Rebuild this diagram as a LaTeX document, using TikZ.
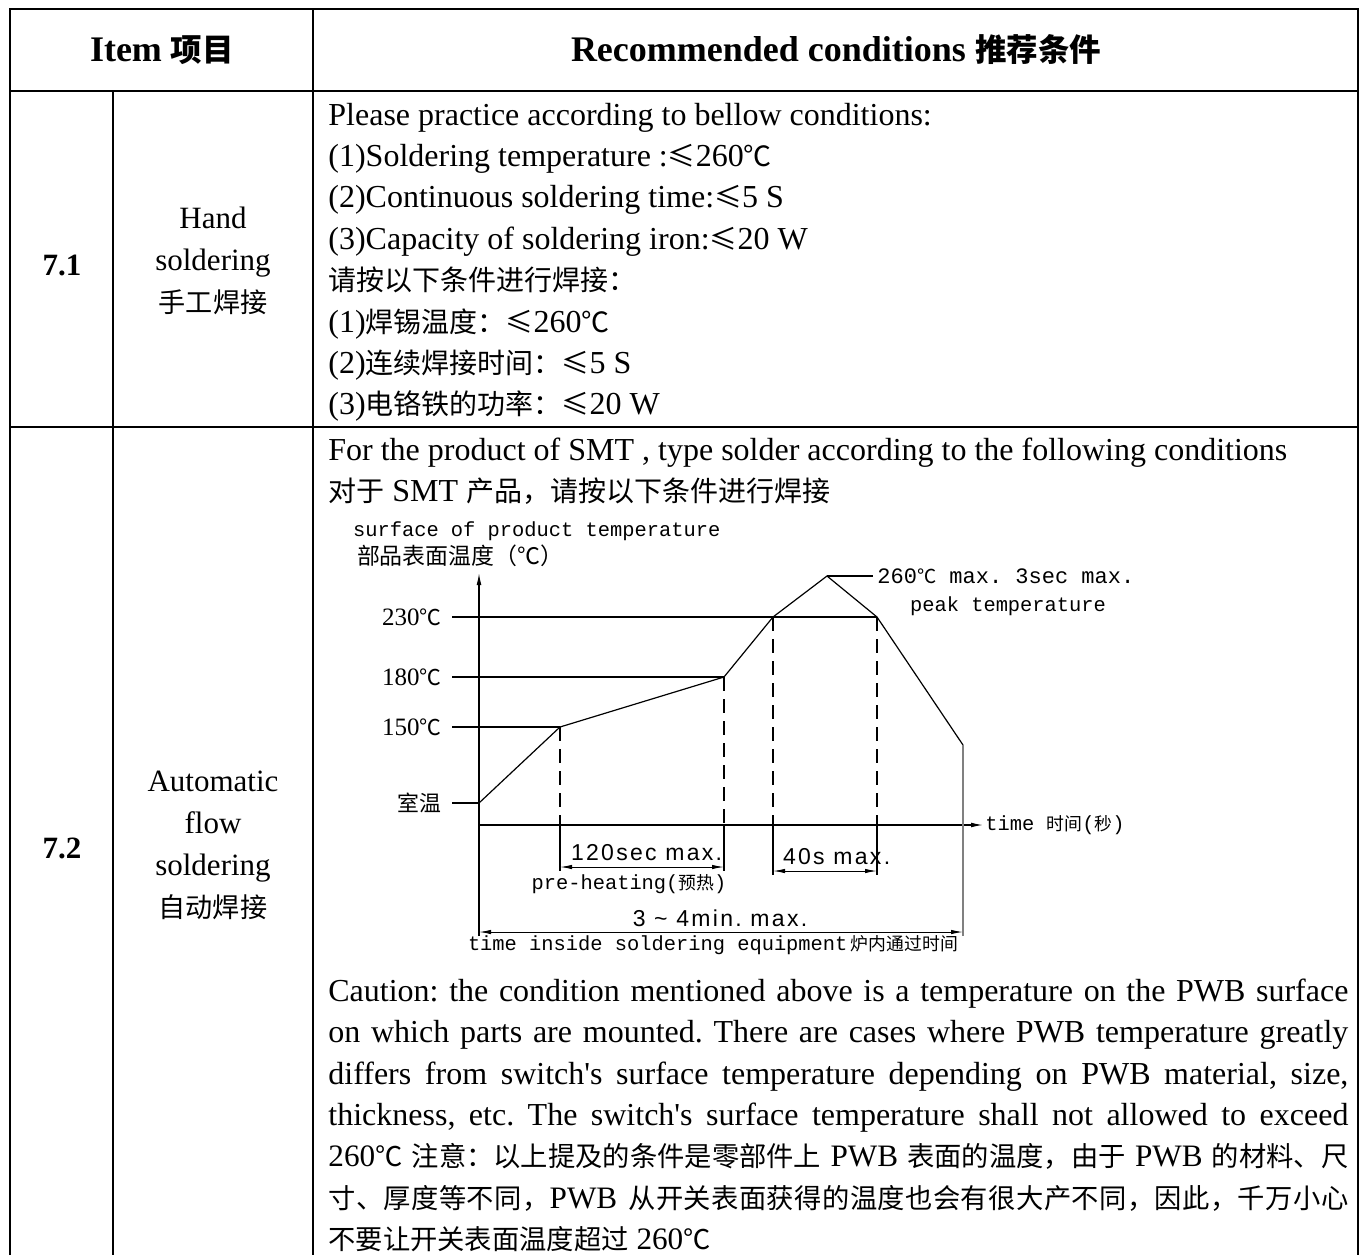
\documentclass[tikz,border=0pt]{standalone}
\usepackage{fontspec}
\setmainfont{Liberation Serif}
\setsansfont[LetterSpace=10]{Liberation Sans}
\setmonofont{Liberation Mono}
\newfontfamily\cjk[Scale=0.875]{Noto Sans CJK SC}
\newfontfamily\cjkwide[Scale=0.875,LetterSpace=1.5]{Noto Sans CJK SC}
\XeTeXlinebreaklocale "zh"
\XeTeXlinebreakskip=0pt plus 2pt
\frenchspacing
\usetikzlibrary{arrows.meta}
\newcommand{\zh}[1]{{\cjk #1}}
\newcommand{\zhw}[1]{{\cjkwide #1}}
\newcommand{\dC}{{\cjk ℃}}
\newcommand{\myLe}{{\cjk ≤}}

\begin{document}
\begin{tikzpicture}[x=0.5pt,y=-0.5pt,
    % Define styles
    grid/.style={
        line width=1.3pt
    },
    head/.style={
        font=\fontsize{18}{22}\selectfont\bfseries
    },
    num/.style={
        font=\fontsize{15.5}{20}\selectfont\bfseries
    },
    item/.style={
        align=center,
        font=\fontsize{15.5}{21}\selectfont
    },
    body/.style={
        anchor=base west,
        inner sep=0pt,
        font=\fontsize{16}{20}\selectfont
    },
    bodyzh/.style={
        body,
        font=\fontsize{15.6}{20}\selectfont
    },
    templbl/.style={
        anchor=east,
        inner sep=5pt,
        font=\fontsize{12.5}{14}\selectfont
    },
    monotxt/.style={
        font=\fontsize{10.2}{12}\selectfont\ttfamily
    },
    dimtxt/.style={
        font=\fontsize{11.5}{13}\selectfont\sffamily
    },
    curve/.style={
        line width=0.6pt
    },
    guide/.style={
        line width=0.6pt,
        dash pattern=on 7pt off 4pt
    },
    axis/.style={
        line width=0.6pt,
        -{Latex[length=6pt,width=2.4pt]}
    },
    dimline/.style={
        line width=0.5pt,
        {Latex[length=6pt,width=2.2pt]}-{Latex[length=6pt,width=2.2pt]}
    }
]
\useasboundingbox (0,0) rectangle (1367,1255);

% Variables
\def\colA{10}
\def\colB{113}
\def\colC{313}
\def\colD{1358}
\def\rowA{9}
\def\rowB{91}
\def\rowC{427}
\def\rowE{1255}
\def\txtx{328}

% Table frame
\draw[grid] (\colA,\rowE) -- (\colA,\rowA) -- (\colD,\rowA) -- (\colD,\rowE);
\draw[grid] (\colA,\rowB) -- (\colD,\rowB);
\draw[grid] (\colA,\rowC) -- (\colD,\rowC);
\draw[grid] (\colB,\rowB) -- (\colB,\rowE);
\draw[grid] (\colC,\rowA) -- (\colC,\rowE);

% Header
\node[head] (hitem) at (162,50) {Item \zh{项目}};
\node[head] (hcond) at (836,50) {Recommended conditions \zh{推荐条件}};

% Row 7.1
\node[num] (n71) at (62,265) {7.1};
\node[item] (i71) at (213,261) {Hand\\soldering\\\zh{手工焊接}};

\node[body] (c1) at (\txtx,125) {Please practice according to bellow conditions:};
\node[body] (c2) at (\txtx,166.4) {(1)Soldering temperature :\myLe260\dC};
\node[body] (c3) at (\txtx,207.8) {(2)Continuous soldering time:\myLe5 S};
\node[body] (c4) at (\txtx,249.2) {(3)Capacity of soldering iron:\myLe20 W};
\node[body] (c5) at (\txtx,290.6) {\zh{请按以下条件进行焊接：}};
\node[body] (c6) at (\txtx,332) {(1)\zh{焊锡温度：}\myLe260\dC};
\node[body] (c7) at (\txtx,373.4) {(2)\zh{连续焊接时间：}\myLe5 S};
\node[body] (c8) at (\txtx,414.8) {(3)\zh{电铬铁的功率：}\myLe20 W};

% Row 7.2
\node[num] (n72) at (62,848) {7.2};
\node[item] (i72) at (213,845) {Automatic\\flow\\soldering\\\zh{自动焊接}};

\node[body] (s1) at (\txtx,460) {For the product of SMT , type solder according to the following conditions};
\node[body] (s2) at (\txtx,501) {\zh{对于} SMT \zh{产品，请按以下条件进行焊接}};

% Profile chart
\coordinate (o) at (479,825);
\coordinate (ytop) at (479,573);
\coordinate (ybot) at (479,936);
\coordinate (xend) at (983,825);
\coordinate (p1) at (479,803);
\coordinate (p2) at (560,727);
\coordinate (p3) at (724,677);
\coordinate (p4) at (773,617);
\coordinate (p5) at (827,576);
\coordinate (p6) at (877,617);
\coordinate (p7) at (963,745);

\node[monotxt, anchor=west] (ylab) at (346,531) {surface of product temperature};
\node[anchor=west, font=\fontsize{13.1}{14}\selectfont] (ylab2) at (350,556) {\zh{部品表面温度（℃）}};

\draw[axis] (ybot) -- (ytop);
\draw[axis] (o) -- (xend);
\node[monotxt, anchor=west, inner sep=1pt] (xlab) at (xend) {time \zh{时间}(\zh{秒})};

\node[templbl] (t230) at (452,617) {230\dC};
\node[templbl] (t180) at (452,677) {180\dC};
\node[templbl] (t150) at (452,727) {150\dC};
\node[templbl] (troom) at (452,803) {\zh{室温}};
\draw[curve] (t230.east) -- (p6);
\draw[curve] (t180.east) -- (p3);
\draw[curve] (t150.east) -- (p2);
\draw[curve] (troom.east) -- (p1);

\draw[curve] (p1) -- (p2) -- (p3) -- (p4) -- (p5) -- (p6) -- (p7);

\node[monotxt, anchor=west, inner sep=2pt, font=\fontsize{11}{13}\selectfont\ttfamily] (lpeak) at (873,576) {260\dC\ max. 3sec max.};
\draw[curve] (p5) -- (lpeak.west);
\node[monotxt, anchor=west] (lpeak2) at (903,606) {peak temperature};

% Guides and extension lines
\coordinate (e2) at (560,871);
\coordinate (e3) at (724,871);
\coordinate (e4) at (773,875);
\coordinate (e6) at (877,875);
\coordinate (e7) at (963,936);
\draw[guide] (p2) -- (p2 |- o);
\draw[guide] (p3) -- (p3 |- o);
\draw[guide] (p4) -- (p4 |- o);
\draw[guide] (p6) -- (p6 |- o);
\draw[curve] (p2 |- o) -- (e2);
\draw[curve] (p3 |- o) -- (e3);
\draw[curve] (p4 |- o) -- (e4);
\draw[curve] (p6 |- o) -- (e6);
\draw[curve, gray] (p7) -- (e7);

% Dimensions
\coordinate (a1l) at (560,867);
\coordinate (a1r) at (724,867);
\coordinate (a2l) at (773,871);
\coordinate (a2r) at (877,871);
\coordinate (a3l) at (479,932);
\coordinate (a3r) at (963,932);
\draw[dimline] (a1l) -- (a1r);
\draw[dimline] (a2l) -- (a2r);
\draw[dimline] (a3l) -- (a3r);

\node[dimtxt, anchor=base west] (d120) at (564,860) {120sec max.};
\node[monotxt] (dpre) at (629,884) {pre-heating(\zh{预热})};
\node[dimtxt, anchor=base west] (d40) at (776,864) {40s max.};
\node[dimtxt] (d34) at (720,918) {3 \textasciitilde\ 4min. max.};
\node[monotxt] (dtime) at (713,945) {time inside soldering equipment\,\zh{炉内通过时间}};

% Caution
\node[body] (w1) at (\txtx,1001) {\makebox[510pt][s]{Caution: the condition mentioned above is a temperature on the PWB surface}};
\node[body] (w2) at (\txtx,1042) {\makebox[510pt][s]{on which parts are mounted. There are cases where PWB temperature greatly}};
\node[body] (w3) at (\txtx,1084) {\makebox[510pt][s]{differs from switch\textquotesingle s surface temperature depending on PWB material, size,}};
\node[body] (w4) at (\txtx,1125) {\makebox[510pt][s]{thickness, etc. The switch\textquotesingle s surface temperature shall not allowed to exceed}};
\node[bodyzh] (w5) at (\txtx,1166) {\makebox[510pt][s]{260\dC\ \zh{注意：以上提及的条件是零部件上} PWB \zh{表面的温度，由于} PWB \zh{的材料、尺}}};
\node[bodyzh] (w6) at (\txtx,1208) {\makebox[510pt][s]{\zhw{寸、厚度等不同，}PWB \zhw{从开关表面获得的温度也会有很大产不同，因此，千万小心}}};
\node[bodyzh] (w7) at (\txtx,1249) {\zh{不要让开关表面温度超过} 260\dC};

\end{tikzpicture}
\end{document}
